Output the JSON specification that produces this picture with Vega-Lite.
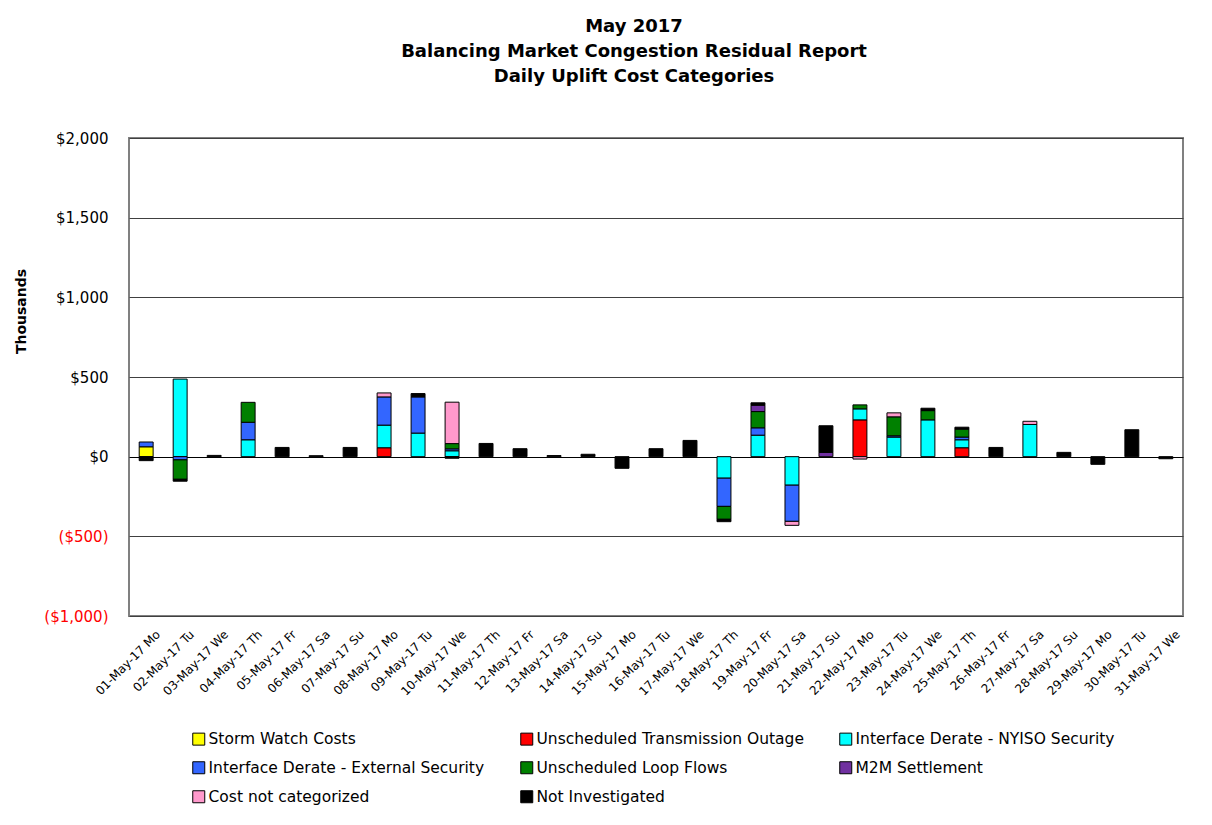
{
  "$schema": "https://vega.github.io/schema/vega-lite/v6.json",
  "width": 1054,
  "height": 478,
  "autosize": {"type": "none"},
  "padding": {"left": 129, "top": 138, "right": 29, "bottom": 209},
  "background": "white",
  "title": {
    "text": ["May 2017", "Balancing Market Congestion Residual Report", "Daily Uplift Cost Categories"],
    "font": "DejaVu Sans", "fontSize": 18, "fontWeight": "bold", "lineHeight": 25,
    "anchor": "middle", "dx": -22, "offset": 45, "color": "black"
  },
  "data": {"values": [
    {"day": "01-May-17 Mo", "cat": "Storm Watch Costs", "k": 1, "v": 62},
    {"day": "01-May-17 Mo", "cat": "Interface Derate - External Security", "k": 4, "v": 30},
    {"day": "01-May-17 Mo", "cat": "Not Investigated", "k": 8, "v": -25},
    {"day": "02-May-17 Tu", "cat": "Interface Derate - NYISO Security", "k": 3, "v": 487},
    {"day": "02-May-17 Tu", "cat": "Interface Derate - External Security", "k": 4, "v": -20},
    {"day": "02-May-17 Tu", "cat": "Unscheduled Loop Flows", "k": 5, "v": -122},
    {"day": "02-May-17 Tu", "cat": "Not Investigated", "k": 8, "v": -12},
    {"day": "03-May-17 We", "cat": "Not Investigated", "k": 8, "v": 8},
    {"day": "04-May-17 Th", "cat": "Interface Derate - NYISO Security", "k": 3, "v": 106},
    {"day": "04-May-17 Th", "cat": "Interface Derate - External Security", "k": 4, "v": 110},
    {"day": "04-May-17 Th", "cat": "Unscheduled Loop Flows", "k": 5, "v": 125},
    {"day": "05-May-17 Fr", "cat": "Not Investigated", "k": 8, "v": 58},
    {"day": "06-May-17 Sa", "cat": "Not Investigated", "k": 8, "v": 6},
    {"day": "07-May-17 Su", "cat": "Not Investigated", "k": 8, "v": 58},
    {"day": "08-May-17 Mo", "cat": "Unscheduled Transmission Outage", "k": 2, "v": 56},
    {"day": "08-May-17 Mo", "cat": "Interface Derate - NYISO Security", "k": 3, "v": 142},
    {"day": "08-May-17 Mo", "cat": "Interface Derate - External Security", "k": 4, "v": 177},
    {"day": "08-May-17 Mo", "cat": "Cost not categorized", "k": 7, "v": 25},
    {"day": "09-May-17 Tu", "cat": "Interface Derate - NYISO Security", "k": 3, "v": 148},
    {"day": "09-May-17 Tu", "cat": "Interface Derate - External Security", "k": 4, "v": 227},
    {"day": "09-May-17 Tu", "cat": "Not Investigated", "k": 8, "v": 21},
    {"day": "10-May-17 We", "cat": "Interface Derate - NYISO Security", "k": 3, "v": 37},
    {"day": "10-May-17 We", "cat": "Interface Derate - External Security", "k": 4, "v": 12},
    {"day": "10-May-17 We", "cat": "Unscheduled Loop Flows", "k": 5, "v": 33},
    {"day": "10-May-17 We", "cat": "Cost not categorized", "k": 7, "v": 260},
    {"day": "10-May-17 We", "cat": "Not Investigated", "k": 8, "v": -10},
    {"day": "11-May-17 Th", "cat": "Not Investigated", "k": 8, "v": 83},
    {"day": "12-May-17 Fr", "cat": "Not Investigated", "k": 8, "v": 50},
    {"day": "13-May-17 Sa", "cat": "Not Investigated", "k": 8, "v": 7},
    {"day": "14-May-17 Su", "cat": "Not Investigated", "k": 8, "v": 15},
    {"day": "15-May-17 Mo", "cat": "Not Investigated", "k": 8, "v": -73},
    {"day": "16-May-17 Tu", "cat": "Not Investigated", "k": 8, "v": 50},
    {"day": "17-May-17 We", "cat": "Not Investigated", "k": 8, "v": 102},
    {"day": "18-May-17 Th", "cat": "Interface Derate - NYISO Security", "k": 3, "v": -135},
    {"day": "18-May-17 Th", "cat": "Interface Derate - External Security", "k": 4, "v": -177},
    {"day": "18-May-17 Th", "cat": "Unscheduled Loop Flows", "k": 5, "v": -81},
    {"day": "18-May-17 Th", "cat": "Not Investigated", "k": 8, "v": -15},
    {"day": "19-May-17 Fr", "cat": "Interface Derate - NYISO Security", "k": 3, "v": 135},
    {"day": "19-May-17 Fr", "cat": "Interface Derate - External Security", "k": 4, "v": 46},
    {"day": "19-May-17 Fr", "cat": "Unscheduled Loop Flows", "k": 5, "v": 102},
    {"day": "19-May-17 Fr", "cat": "M2M Settlement", "k": 6, "v": 40},
    {"day": "19-May-17 Fr", "cat": "Not Investigated", "k": 8, "v": 15},
    {"day": "20-May-17 Sa", "cat": "Interface Derate - NYISO Security", "k": 3, "v": -179},
    {"day": "20-May-17 Sa", "cat": "Interface Derate - External Security", "k": 4, "v": -227},
    {"day": "20-May-17 Sa", "cat": "Cost not categorized", "k": 7, "v": -25},
    {"day": "21-May-17 Su", "cat": "M2M Settlement", "k": 6, "v": 27},
    {"day": "21-May-17 Su", "cat": "Not Investigated", "k": 8, "v": 167},
    {"day": "22-May-17 Mo", "cat": "Unscheduled Transmission Outage", "k": 2, "v": 231},
    {"day": "22-May-17 Mo", "cat": "Interface Derate - NYISO Security", "k": 3, "v": 69},
    {"day": "22-May-17 Mo", "cat": "Unscheduled Loop Flows", "k": 5, "v": 25},
    {"day": "22-May-17 Mo", "cat": "Cost not categorized", "k": 7, "v": -15},
    {"day": "23-May-17 Tu", "cat": "Interface Derate - NYISO Security", "k": 3, "v": 123},
    {"day": "23-May-17 Tu", "cat": "Interface Derate - External Security", "k": 4, "v": 8},
    {"day": "23-May-17 Tu", "cat": "Unscheduled Loop Flows", "k": 5, "v": 119},
    {"day": "23-May-17 Tu", "cat": "Cost not categorized", "k": 7, "v": 25},
    {"day": "24-May-17 We", "cat": "Interface Derate - NYISO Security", "k": 3, "v": 231},
    {"day": "24-May-17 We", "cat": "Unscheduled Loop Flows", "k": 5, "v": 58},
    {"day": "24-May-17 We", "cat": "Not Investigated", "k": 8, "v": 15},
    {"day": "25-May-17 Th", "cat": "Unscheduled Transmission Outage", "k": 2, "v": 56},
    {"day": "25-May-17 Th", "cat": "Interface Derate - NYISO Security", "k": 3, "v": 50},
    {"day": "25-May-17 Th", "cat": "Interface Derate - External Security", "k": 4, "v": 17},
    {"day": "25-May-17 Th", "cat": "Unscheduled Loop Flows", "k": 5, "v": 50},
    {"day": "25-May-17 Th", "cat": "Not Investigated", "k": 8, "v": 12},
    {"day": "26-May-17 Fr", "cat": "Not Investigated", "k": 8, "v": 58},
    {"day": "27-May-17 Sa", "cat": "Interface Derate - NYISO Security", "k": 3, "v": 202},
    {"day": "27-May-17 Sa", "cat": "Cost not categorized", "k": 7, "v": 20},
    {"day": "28-May-17 Su", "cat": "Not Investigated", "k": 8, "v": 27},
    {"day": "29-May-17 Mo", "cat": "Not Investigated", "k": 8, "v": -48},
    {"day": "30-May-17 Tu", "cat": "Not Investigated", "k": 8, "v": 169},
    {"day": "31-May-17 We", "cat": "Not Investigated", "k": 8, "v": -13}
  ]},
  "mark": {"type": "bar", "stroke": "black", "strokeWidth": 1},
  "encoding": {
    "x": {
      "field": "day", "type": "nominal", "sort": null,
      "scale": {"paddingInner": 0.59, "paddingOuter": 0.3},
      "axis": {
        "title": null, "labelAngle": -45, "labelAlign": "right", "labelBaseline": "middle",
        "labelFontSize": 12, "labelFont": "DejaVu Sans", "labelColor": "black", "labelOffset": 12,
        "ticks": false, "domain": false, "labelPadding": 16, "labelOverlap": false, "grid": false
      }
    },
    "y": {
      "field": "v", "type": "quantitative", "stack": "zero",
      "scale": {"domain": [-1000, 2000], "nice": false, "zero": false},
      "axis": {
        "title": "Thousands", "titleFont": "DejaVu Sans", "titleFontSize": 14, "titleFontWeight": "bold",
        "titleColor": "black", "titleX": -108, "titleY": 173, "titleAngle": -90,
        "titleAlign": "center", "titleBaseline": "middle",
        "values": [-1000, -500, 0, 500, 1000, 1500, 2000],
        "labelExpr": "datum.value < 0 ? '($' + format(-datum.value, ',') + ')' : '$' + format(datum.value, ',')",
        "labelColor": {"condition": {"test": "datum.value < 0", "value": "#FF0000"}, "value": "black"},
        "labelFontSize": 15, "labelFont": "DejaVu Sans", "labelPadding": 21,
        "ticks": false, "domain": false, "grid": true,
        "gridColor": {"condition": {"test": "datum.value === 0", "value": "black"}, "value": "#404040"},
        "gridWidth": 1, "gridOpacity": 1
      }
    },
    "color": {
      "field": "cat", "type": "nominal",
      "sort": ["Storm Watch Costs", "Unscheduled Transmission Outage", "Interface Derate - NYISO Security", "Interface Derate - External Security", "Unscheduled Loop Flows", "M2M Settlement", "Cost not categorized", "Not Investigated"],
      "scale": {
        "domain": ["Storm Watch Costs", "Unscheduled Transmission Outage", "Interface Derate - NYISO Security", "Interface Derate - External Security", "Unscheduled Loop Flows", "M2M Settlement", "Cost not categorized", "Not Investigated"],
        "range": ["#FFFF00", "#FF0000", "#00FFFF", "#3366FF", "#008000", "#7030A0", "#FF99CC", "#000000"]
      },
      "legend": {
        "orient": "none", "legendX": 62, "legendY": 593, "columns": 3, "direction": "horizontal", "title": null,
        "symbolType": "square", "symbolSize": 144, "symbolStrokeColor": "black", "symbolStrokeWidth": 1,
        "symbolOpacity": 1,
        "labelFont": "DejaVu Sans", "labelFontSize": 15.5, "labelColor": "black", "labelOffset": 2,
        "columnPadding": 33, "rowPadding": 11, "labelLimit": 400
      }
    },
    "order": {"field": "k", "type": "quantitative"}
  },
  "config": {"view": {"stroke": "#808080", "strokeWidth": 2}}
}
